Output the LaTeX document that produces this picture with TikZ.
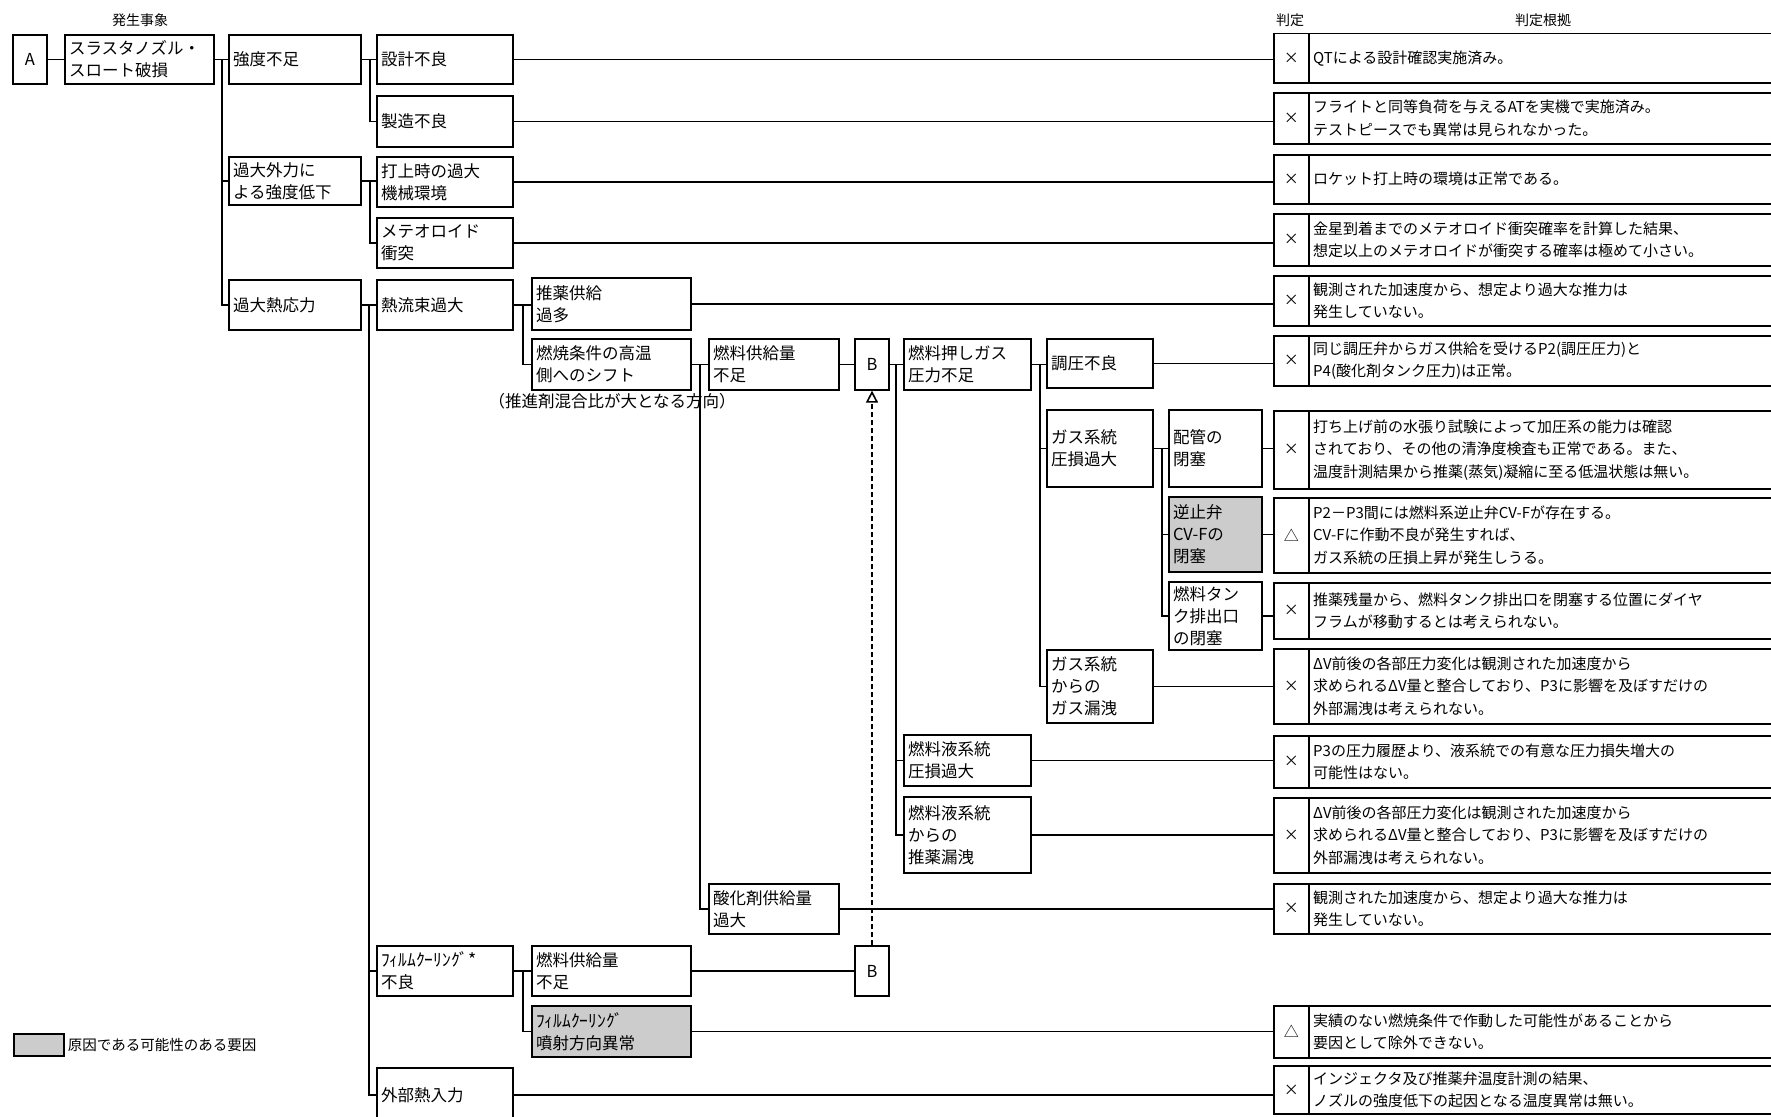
\documentclass[tikz,border=0pt]{standalone}
\usepackage{fontspec}
\setmainfont{Noto Sans CJK JP}
\usetikzlibrary{arrows.meta}
\tikzset{
 box/.style={draw, line width=1.2pt, inner sep=4pt, align=left, font=\fontsize{16.5}{22}\selectfont, anchor=center},
 keybox/.style={fill=gray!40, line width=2.2pt},
 conn/.style={line width=1.2pt},
 jbox/.style={draw, line width=1.5pt, inner sep=0pt, font=\fontsize{15}{15}\selectfont},
 jtxt/.style={anchor=west, align=left, inner sep=0pt, font=\fontsize{15}{22.5}\selectfont},
 head/.style={inner sep=0pt, font=\fontsize{14}{14}\selectfont},
}
\newcommand\mybox[7][]{%
 \pgfmathsetmacro\myW{#5-#3}\pgfmathsetmacro\myH{#6-#4}%
 \pgfmathsetmacro\myTW{#5-#3-8}%
 \pgfmathsetmacro\myX{(#3+#5)/2}\pgfmathsetmacro\myY{(#4+#6)/2}%
 \node[box,#1,minimum width=\myW pt,minimum height=\myH pt,text width=\myTW pt] (#2) at (\myX,\myY) {#7};}
\newcommand\myjudge[5]{%
 \pgfmathsetmacro\myH{#3-#2}%
 \node[jbox, minimum width=35pt, minimum height=\myH pt, anchor=north west] (#1) at (1273,#2) {#4};
 \node[jbox, minimum width=480pt, minimum height=\myH pt, anchor=north west] (#1t) at (1308,#2) {};
 \node[jtxt] (#1x) at ([xshift=5pt]#1t.west) {#5};}
\begin{document}
\begin{tikzpicture}[x=1pt,y=-1pt]
\fill[white] (0,0) rectangle (1771,1116);
\useasboundingbox (0,0) rectangle (1771,1116);
% headers
\node[head] (h1) at (140,20) {発生事象};
\node[head] (h2) at (1290,20) {判定};
\node[head] (h3) at (1543,20) {判定根拠};
% tree boxes
\mybox[align=center]{A}{13}{35}{47}{84}{A}
\mybox{n1}{65}{35}{214}{84}{スラスタノズル・\\スロート破損}
\mybox{kyodo}{229}{35}{361}{84}{強度不足}
\mybox{gaibu}{229}{157}{361}{205}{過大外力に\\よる強度低下}
\mybox{netsuo}{229}{280}{361}{330}{過大熱応力}
\mybox{sekkei}{377}{35}{513}{84}{設計不良}
\mybox{seizo}{377}{96}{513}{147}{製造不良}
\mybox{uchiage}{377}{157}{513}{207}{打上時の過大\\機械環境}
\mybox{meteo}{377}{218}{513}{268}{メテオロイド\\衝突}
\mybox{netsury}{377}{280}{513}{330}{熱流束過大}
\mybox{film}{377}{946}{513}{996}{{\fontsize{17.5}{22}\selectfont ﾌｨﾙﾑｸｰﾘﾝｸﾞ*}\\不良}
\mybox{gaibunetsu}{377}{1068}{513}{1122}{外部熱入力}
\mybox{suiyaku}{532}{278}{691}{330}{推薬供給\\過多}
\mybox{nensho}{532}{339}{691}{390}{燃焼条件の高温\\側へのシフト}
\mybox{nenryo2}{532}{946}{691}{996}{燃料供給量\\不足}
\mybox[keybox]{funsha}{532}{1006}{691}{1057}{{\fontsize{17.5}{22}\selectfont ﾌｨﾙﾑｸｰﾘﾝｸﾞ}\\噴射方向異常}
\mybox{nenryo1}{709}{339}{839}{390}{燃料供給量\\不足}
\mybox{sanka}{709}{884}{839}{934}{酸化剤供給量\\過大}
\mybox[align=center]{B1}{855}{339}{889}{390}{B}
\mybox[align=center]{B2}{855}{946}{889}{996}{B}
\mybox{oshi}{904}{339}{1031}{390}{燃料押しガス\\圧力不足}
\mybox{ekikei}{904}{735}{1031}{786}{燃料液系統\\圧損過大}
\mybox{rorei}{904}{797}{1031}{873}{燃料液系統\\からの\\推薬漏洩}
\mybox{choatsu}{1047}{339}{1153}{388}{調圧不良}
\mybox{gasatsu}{1047}{410}{1153}{487}{ガス系統\\圧損過大}
\mybox{gasrorei}{1047}{650}{1153}{723}{ガス系統\\からの\\ガス漏洩}
\mybox{haikan}{1169}{410}{1262}{487}{配管の\\閉塞}
\mybox[keybox]{gyakushi}{1169}{497}{1262}{572}{逆止弁\\CV-Fの\\閉塞}
\mybox{tank}{1169}{582}{1262}{650}{燃料タン\\ク排出口\\の閉塞}
\node[head, font=\fontsize{16.5}{16.5}\selectfont] (note) at (612,401) {（推進剤混合比が大となる方向）};
% legend
\node[draw, fill=gray!40, line width=1.5pt, minimum width=50pt, minimum height=22pt, inner sep=0pt] (leg) at (39,1045) {};
\node[head, anchor=west, font=\fontsize{14.5}{14.5}\selectfont] (legtxt) at ([xshift=3pt]leg.east) {原因である可能性のある要因};
% judgments
\myjudge{j1}{33}{82}{×}{QTによる設計確認実施済み。}
\myjudge{j2}{92}{143}{×}{フライトと同等負荷を与えるATを実機で実施済み。\\テストピースでも異常は見られなかった。}
\myjudge{j3}{154}{203}{×}{ロケット打上時の環境は正常である。}
\myjudge{j4}{213}{265}{×}{金星到着までのメテオロイド衝突確率を計算した結果、\\想定以上のメテオロイドが衝突する確率は極めて小さい。}
\myjudge{j5}{275}{325}{×}{観測された加速度から、想定より過大な推力は\\発生していない。}
\myjudge{j6}{335}{385}{×}{同じ調圧弁からガス供給を受けるP2(調圧圧力)と\\P4(酸化剤タンク圧力)は正常。}
\myjudge{j7}{410}{488}{×}{打ち上げ前の水張り試験によって加圧系の能力は確認\\されており、その他の清浄度検査も正常である。また、\\温度計測結果から推薬(蒸気)凝縮に至る低温状態は無い。}
\myjudge{j8}{497}{572}{△}{P2－P3間には燃料系逆止弁CV-Fが存在する。\\CV-Fに作動不良が発生すれば、\\ガス系統の圧損上昇が発生しうる。}
\myjudge{j9}{582}{638}{×}{推薬残量から、燃料タンク排出口を閉塞する位置にダイヤ\\フラムが移動するとは考えられない。}
\myjudge{j10}{648}{723}{×}{ΔV前後の各部圧力変化は観測された加速度から\\求められるΔV量と整合しており、P3に影響を及ぼすだけの\\外部漏洩は考えられない。}
\myjudge{j11}{735}{787}{×}{P3の圧力履歴より、液系統での有意な圧力損失増大の\\可能性はない。}
\myjudge{j12}{797}{872}{×}{ΔV前後の各部圧力変化は観測された加速度から\\求められるΔV量と整合しており、P3に影響を及ぼすだけの\\外部漏洩は考えられない。}
\myjudge{j13}{883}{933}{×}{観測された加速度から、想定より過大な推力は\\発生していない。}
\myjudge{j14}{1005}{1057}{△}{実績のない燃焼条件で作動した可能性があることから\\要因として除外できない。}
\myjudge{j15}{1065}{1113}{×}{インジェクタ及び推薬弁温度計測の結果、\\ノズルの強度低下の起因となる温度異常は無い。}
% tree connectors
\draw[conn] (A.east) -- (n1.west);
\draw[conn] (n1.east) -- (kyodo.west);
\coordinate (t1) at (222,59.5);
\draw[conn] (t1) |- (gaibu.west);
\draw[conn] (t1) |- (netsuo.west);
\draw[conn] (kyodo.east) -- (sekkei.west);
\coordinate (t2) at (370,59.5);
\draw[conn] (t2) |- (seizo.west);
\draw[conn] (gaibu.east) -- (gaibu.east -| uchiage.west);
\coordinate (t3) at (370,181);
\draw[conn] (t3) |- (meteo.west);
\draw[conn] (netsuo.east) -- (netsury.west);
\coordinate (t4) at (369,305);
\draw[conn] (t4) |- (film.west);
\draw[conn] (t4) |- (gaibunetsu.west);
\draw[conn] (netsury.east) -- (netsury.east -| suiyaku.west);
\coordinate (t5) at (523,305);
\draw[conn] (t5) |- (nensho.west);
\draw[conn] (nensho.east) -- (nenryo1.west);
\coordinate (t6) at (700,364.5);
\draw[conn] (t6) |- (sanka.west);
\draw[conn] (nenryo1.east) -- (B1.west);
\draw[conn] (B1.east) -- (oshi.west);
\coordinate (t7) at (896,364.5);
\draw[conn] (t7) |- (ekikei.west);
\draw[conn] (t7) |- (rorei.west);
\draw[conn] (oshi.east) -- (oshi.east -| choatsu.west);
\coordinate (t8) at (1040,364.5);
\draw[conn] (t8) |- (gasatsu.west);
\draw[conn] (t8) |- (gasrorei.west);
\draw[conn] (gasatsu.east) -- (haikan.west);
\coordinate (t9) at (1162,448.5);
\draw[conn] (t9) |- (gyakushi.west);
\draw[conn] (t9) |- (tank.west);
\draw[conn] (film.east) -- (nenryo2.west);
\coordinate (t10) at (523,971);
\draw[conn] (t10) |- (funsha.west);
\draw[conn] (nenryo2.east) -- (B2.west);
\draw[line width=2.6pt, dash pattern=on 5pt off 3pt, -{Triangle[open,length=12pt,width=12pt,line width=1.6pt]}] (B2.north) -- (B1.south);
% to judgments
\draw[conn] (sekkei.east) -- (sekkei.east -| j1.west);
\draw[conn] (seizo.east) -- (seizo.east -| j2.west);
\draw[conn] (uchiage.east) -- (uchiage.east -| j3.west);
\draw[conn] (meteo.east) -- (meteo.east -| j4.west);
\draw[conn] (suiyaku.east) -- (suiyaku.east -| j5.west);
\draw[conn] (choatsu.east) -- (choatsu.east -| j6.west);
\draw[conn] (haikan.east) -- (haikan.east -| j7.west);
\draw[conn] (gyakushi.east) -- (gyakushi.east -| j8.west);
\draw[conn] (tank.east) -- (tank.east -| j9.west);
\draw[conn] (gasrorei.east) -- (gasrorei.east -| j10.west);
\draw[conn] (ekikei.east) -- (ekikei.east -| j11.west);
\draw[conn] (rorei.east) -- (rorei.east -| j12.west);
\draw[conn] (sanka.east) -- (sanka.east -| j13.west);
\draw[conn] (funsha.east) -- (funsha.east -| j14.west);
\draw[conn] (gaibunetsu.east) -- (gaibunetsu.east -| j15.west);
\end{tikzpicture}
\end{document}
